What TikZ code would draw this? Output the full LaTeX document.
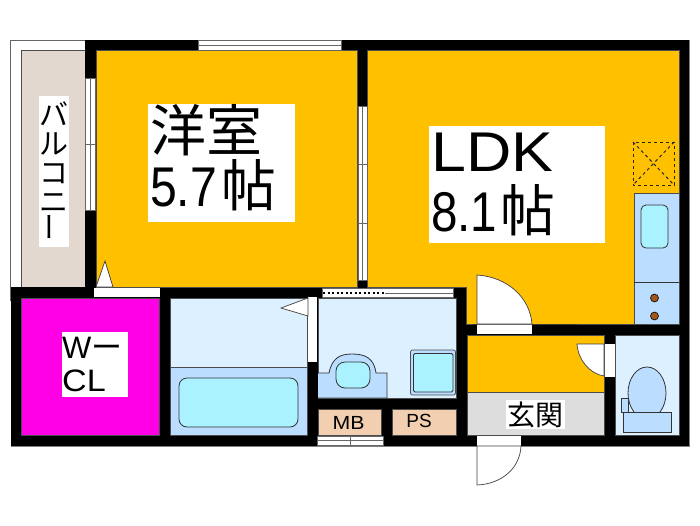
\documentclass[tikz,border=0pt]{standalone}
\usepackage{fontspec}
\setmainfont{Liberation Sans}
\newfontfamily\cjk{Noto Sans CJK JP}
\definecolor{roomgold}{HTML}{FFC000}
\definecolor{closetpink}{HTML}{FF00E6}
\definecolor{balconybeige}{HTML}{E2D8D0}
\definecolor{wetlight}{HTML}{DDF0FF}
\definecolor{wetblue}{HTML}{BBDDFF}
\definecolor{basincyan}{HTML}{AAF2FF}
\definecolor{pipepeach}{HTML}{F2CFB0}
\definecolor{floorgrey}{HTML}{DDDDDD}
\definecolor{knobbrown}{HTML}{A0561C}
\tikzset{
  room/.style={draw=black!70,line width=.5pt},
  fixture/.style={draw=black!80,line width=.8pt},
  opening/.style={fill=white,draw=black!60,line width=.5pt},
  frameline/.style={draw=black!60,line width=.7pt},
  doorleaf/.style={fill=white,draw=black!75,line width=.7pt},
  labelbox/.style={fill=white,inner sep=0pt},
  bigtext/.style={inner sep=0pt,align=left,font=\fontsize{56}{60}\selectfont},
  smalltext/.style={inner sep=0pt,font=\fontsize{19}{19}\selectfont},
}
\begin{document}
\begin{tikzpicture}[x=1pt,y=-1pt]
  \useasboundingbox (0,0) rectangle (700,525);

  % balcony
  \draw[frameline,fill=white] (10.5,40) rectangle (86,300);
  \draw[room,fill=balconybeige] (21,50) rectangle (85,288);

  % walls
  \fill (85,40) rectangle (689,297);
  \fill (10.5,287) rectangle (467,446);
  \fill (453,287) rectangle (689,446);
  \draw[black!50,line width=.5pt] (10.5,446) -- (689,446) -- (689,40);

  % rooms
  \draw[room,fill=roomgold] (96,50) rectangle (357,287);
  \draw[room,fill=roomgold] (367,50) -- (679,50) -- (679,324) -- (477,324) -- (477,324)
    -- (466,324) -- (466,287) -- (367,287) -- cycle;
  \draw[room,fill=closetpink] (21,298) rectangle (159,435);
  \draw[room,fill=wetlight] (170,298) rectangle (307.5,435);
  \draw[room,fill=wetblue] (170,367) rectangle (307.5,435);
  \draw[room,fill=wetlight] (318,298) rectangle (456,398);
  \draw[room,fill=pipepeach] (318,409) rectangle (381.5,435);
  \draw[room,fill=pipepeach] (392.5,409) rectangle (456,435);
  \draw[room,fill=roomgold] (467,335) rectangle (604,392);
  \draw[room,fill=floorgrey] (467,392) rectangle (604,435);
  \draw[room,fill=wetlight] (615,335) rectangle (679,435);

  % windows
  \draw[opening] (198,40) rectangle (341,50);
  \draw[frameline] (198,45) -- (341,45);
  \draw[opening] (85.5,78) rectangle (95,210);
  \draw[frameline] (90,78) -- (90,210);
  \draw[frameline] (85.5,144) -- (95,144);
  \draw[frameline] (90,138) -- (90,150);
  \draw[opening] (358,106) rectangle (367,280);
  \draw[frameline] (362.5,106) -- (362.5,280);
  \foreach \handley in {164,223}
    \draw[frameline] (358,\handley) -- (367,\handley);
  \draw[opening] (317,436) rectangle (383,445);
  \draw[frameline] (317,440) -- (383,440);
  \draw[frameline] (350,436) -- (350,445);

  % doors
  \fill[white] (94,287.5) rectangle (160,297);
  \draw[doorleaf] (96,287) -- (105,261) -- (113,287) -- cycle;
  \fill[white] (308,297) rectangle (317,362);
  \draw[doorleaf] (308,298) -- (281,308) -- (308,316) -- cycle;
  \draw[opening] (322,288) rectangle (453,297);
  \draw[frameline] (385,293) -- (453,293);
  \draw[black,dash pattern=on 2pt off 2.5pt,line width=1.2pt] (323,293) -- (385,293);
  \draw[doorleaf] (477,324) -- (477,275) .. controls (508,277) and (530,298) .. (532,324) -- cycle;
  \fill[white] (477,324.5) rectangle (532,334);
  \draw[frameline] (477,324) -- (532,324);
  \draw[doorleaf] (604,344) -- (577,344) .. controls (578,360) and (590,374) .. (604,376) -- cycle;
  \fill[white] (604.5,344) rectangle (614.5,377);
  \fill[white] (477,435.5) rectangle (521,446);
  \draw[doorleaf] (477,446) -- (477,485) .. controls (502,484) and (520,468) .. (521,446) -- cycle;

  % bath
  \draw[fixture,fill=basincyan,rounded corners=8pt] (179,378) rectangle (298,427);

  % wash basin
  \draw[fixture,fill=wetblue] (318,373) -- (329,373) .. controls (332,358) and (340,354) .. (352,354)
    .. controls (365,354) and (374,358) .. (376,373) -- (387,373) -- (387,398) -- (318,398);
  \draw[fixture,fill=basincyan,rounded corners=9pt] (336,362) rectangle (370,388);

  % washing machine
  \draw[draw=black!70,fill=wetblue,rounded corners=2pt,line width=.7pt] (410.5,350) rectangle (455.5,395);
  \draw[fixture,fill=basincyan,rounded corners=1.5pt] (413.5,353.5) rectangle (453,392);

  % kitchen
  \draw[room,fill=wetblue] (634,193) rectangle (679,324);
  \draw[fixture] (634,282) -- (679,282);
  \draw[fixture,fill=basincyan,rounded corners=5pt] (641,205) rectangle (668,248);
  \foreach \burnery in {298,316}
    \draw[fill=knobbrown,line width=.6pt] (654.5,\burnery) circle (4);
  \draw[black!85,dashed,line width=1pt] (633,142) rectangle (674,185);
  \draw[black!85,dashed,line width=1pt] (633,142) -- (674,185);
  \draw[black!85,dashed,line width=1pt] (674,142) -- (633,185);

  % toilet
  \draw[fixture,fill=wetblue] (621,398) rectangle (628,412);
  \draw[fixture,fill=wetblue] (647,393) ellipse (19 and 26);
  \draw[fixture,fill=wetblue] (623,412) rectangle (671,432);

  % labels
  \node (balconybox) at (54,171.5) [labelbox,minimum width=30pt,minimum height=151pt]{};
  \node (balconylabel) at (54,171.5) [inner sep=0pt,align=center,
    font={\fontsize{29}{29}\selectfont\cjk}]{バ\\ル\\コ\\ニ\\\rotatebox{90}{ー}};
  \node (westernbox) at (221.5,163) [labelbox,minimum width=147pt,minimum height=118pt]{};
  \node (westernlabel) at (150,157.5) [bigtext,anchor=west]{{\cjk 洋室}\\[-5pt]\scalebox{.86}[1]{5.7}\hspace{4pt}\scalebox{.98}[1]{\cjk 帖}};
  \node (ldkbox) at (517,184.5) [labelbox,minimum width=176pt,minimum height=117pt]{};
  \node (ldklabel) at (431,184.5) [bigtext,anchor=west]{\scalebox{1.12}[1]{LDK}\\\scalebox{.85}[1]{8.1}\hspace{3pt}\scalebox{.98}[1]{\cjk 帖}};
  \node (closetbox) at (94.75,364.5) [labelbox,minimum width=65.5pt,minimum height=65pt]{};
  \node (closetlabel) at (62,364.5) [inner sep=0pt,anchor=west,align=left,
    font=\fontsize{31}{33}\selectfont]{W{\cjk ー}\\\scalebox{1.1}[1]{CL}};
  \node (meterlabel) at (348.5,423) [smalltext]{\scalebox{1.12}[1]{MB}};
  \node (pipelabel) at (419,421) [smalltext]{PS};
  \node (entrylabel) at (535.5,414.5) [labelbox,minimum width=59pt,minimum height=29pt,
    font={\fontsize{28}{28}\selectfont\cjk}]{玄関};
\end{tikzpicture}
\end{document}
